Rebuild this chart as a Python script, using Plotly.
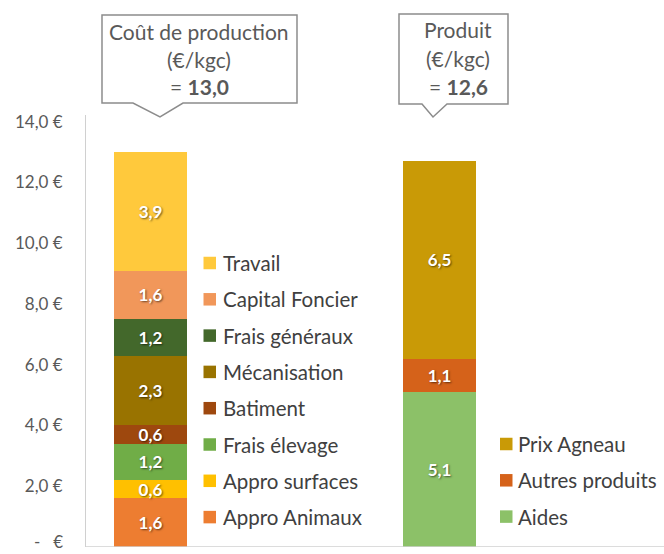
import plotly.graph_objects as go

# ---- data ----
categories = ["Coût de production", "Produit"]
cost_series = ["Appro Animaux", "Appro surfaces", "Frais élevage", "Batiment",
               "Mécanisation", "Frais généraux", "Capital Foncier", "Travail"]
cost_values = [1.6, 0.6, 1.2, 0.6, 2.3, 1.2, 1.6, 3.9]
cost_colors = ["#ED7D31", "#FFC000", "#70AD47", "#9E480E",
               "#997300", "#43682B", "#F1975A", "#FFC93C"]
prod_series = ["Aides", "Autres produits", "Prix Agneau"]
prod_values = [5.1, 1.1, 6.5]
prod_colors = ["#8CC168", "#D5621A", "#C99A06"]
tick_vals = [0, 2, 4, 6, 8, 10, 12, 14]
tick_text = ["-\u00a0\u00a0\u00a0€", "2,0 €", "4,0 €", "6,0 €", "8,0 €", "10,0 €", "12,0 €", "14,0 €"]
total_cost = "13,0"
total_prod = "12,6"

FONT = "Lato"
W, H = 664, 554
L, R, T, B = 86, 0, 115, 7
PW, PH = W - L - R, H - T - B
YMAX = 14.22


def px(x):
    return (x - L) / PW


def py(y):
    return (H - B - y) / PH


def fmt(v):
    return f"{v:.1f}".replace(".", ",")


label_font = dict(color="white", size=17, family=FONT,
                  shadow="1px 1px 2px rgba(0,0,0,0.55)")

fig = go.Figure()
for name, v, c in zip(cost_series, cost_values, cost_colors):
    fig.add_trace(go.Bar(x=[categories[0]], y=[v], name=name, marker_color=c,
                         marker_line_width=0, width=0.2526,
                         text=[f"<b>{fmt(v)}</b>"], textposition="inside",
                         insidetextanchor="middle", constraintext="none",
                         textangle=0, textfont=label_font))
for name, v, c in zip(prod_series, prod_values, prod_colors):
    fig.add_trace(go.Bar(x=[categories[1]], y=[v], name=name, marker_color=c,
                         marker_line_width=0, width=0.2526,
                         text=[f"<b>{fmt(v)}</b>"], textposition="inside",
                         insidetextanchor="middle", constraintext="none",
                         textangle=0, textfont=label_font))

fig.update_layout(
    width=W, height=H, barmode="stack", showlegend=False,
    margin=dict(l=L, r=R, t=T, b=B, autoexpand=False),
    paper_bgcolor="white", plot_bgcolor="white",
    font=dict(family=FONT, color="#595959"),
    xaxis=dict(range=[-0.2232, 1.7768], showticklabels=False, showgrid=False,
               zeroline=False, showline=False, fixedrange=True),
    yaxis=dict(range=[0, YMAX], tickvals=tick_vals[1:], ticktext=tick_text[1:],
               showgrid=False, zeroline=False, showline=True,
               linecolor="#D0D0D0", linewidth=1, ticks="",
               ticklabelstandoff=19, tickfont=dict(size=17, color="#595959")),
)

# zero tick label (kept inside the page)
fig.add_annotation(xref="paper", yref="paper", x=px(65), y=py(554),
                   xanchor="right", yanchor="bottom", showarrow=False,
                   text=tick_text[0], font=dict(size=17, color="#595959", family=FONT))

# baseline
fig.add_shape(type="line", xref="paper", yref="y", x0=0, x1=1, y0=0, y1=0,
              line=dict(color="#D0D0D0", width=1.5))


# legend-like labels
def legend_row(sq_left, text_left, ypix, name, color):
    s = 12.5
    fig.add_shape(type="rect", xref="paper", yref="paper",
                  x0=px(sq_left), x1=px(sq_left + s),
                  y0=py(ypix + s / 2), y1=py(ypix - s / 2),
                  fillcolor=color, line_width=0)
    fig.add_annotation(xref="paper", yref="paper", x=px(text_left), y=py(ypix),
                       xanchor="left", yanchor="middle", showarrow=False,
                       text=name, font=dict(size=20.5, color="#404040", family=FONT))


left_rows = list(reversed(list(zip(cost_series, cost_colors))))
for i, (name, c) in enumerate(left_rows):
    legend_row(203.5, 221, 263 + i * 36.3, name, c)
right_rows = list(reversed(list(zip(prod_series, prod_colors))))
for i, (name, c) in enumerate(right_rows):
    legend_row(500, 516, 444 + i * 36.3, name, c)


# callouts
def callout(l, r, t, b, tl, tip, tr, tipy):
    pts = [(l, t), (r, t), (r, b), (tr, b), (tip, tipy), (tl, b), (l, b)]
    path = "M " + " L ".join(f"{px(x):.5f},{py(y):.5f}" for x, y in pts) + " Z"
    fig.add_shape(type="path", xref="paper", yref="paper", path=path,
                  fillcolor="white", line=dict(color="#8C8C8C", width=1.5),
                  layer="above")


callout(102, 297, 15, 103, 133, 160, 183, 117)
callout(399, 508, 14, 104, 422, 433, 447, 117)


def callout_text(xc, lines):
    for ypix, txt in lines:
        fig.add_annotation(xref="paper", yref="paper", x=px(xc), y=py(ypix),
                           xanchor="center", yanchor="middle", showarrow=False,
                           text=txt, font=dict(size=21, color="#595959", family=FONT))


callout_text(199, [(31, "Coût de production"), (59, "(€/kgc)"), (87, f"= <b>{total_cost}</b>")])
callout_text(458, [(30, "Produit"), (58, "(€/kgc)"), (86, f"= <b>{total_prod}</b>")])

fig.write_html("out.html", config={"displayModeBar": False},
               post_script="document.body.style.margin='0px';")
